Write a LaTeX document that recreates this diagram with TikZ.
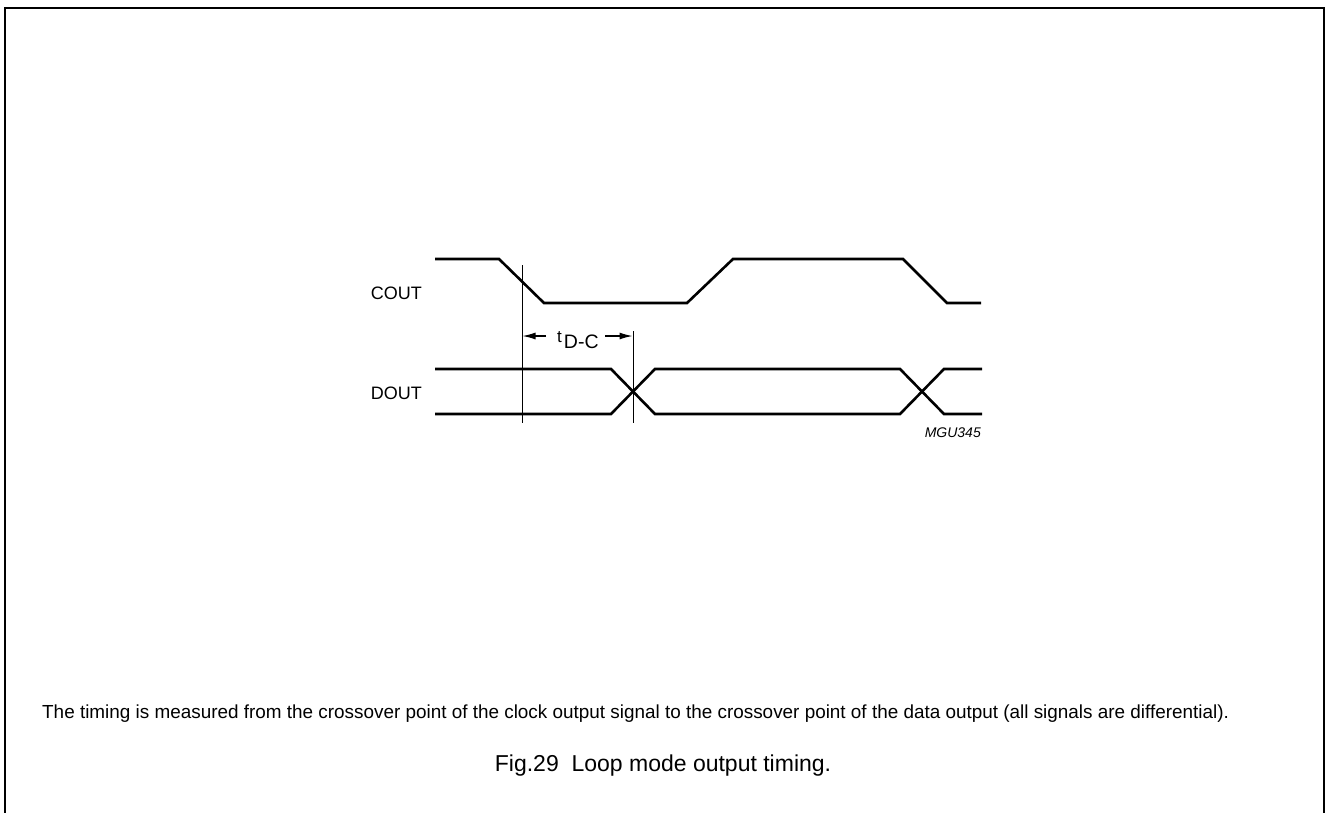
\documentclass[tikz,border=0pt]{standalone}
\usepackage{fontspec}
\setmainfont{Liberation Sans}
\usetikzlibrary{arrows.meta}
\begin{document}
\begin{tikzpicture}[x=1pt,y=-1pt,
  sig/.style={line width=2.6pt,line join=miter},
  thin/.style={line width=1pt},
  frame/.style={line width=2pt},
  dim/.style={line width=1.2pt,-{Latex[length=13pt,width=7pt]}},
  lbl/.style={inner sep=0pt,font=\fontsize{18}{20}\selectfont}]
\useasboundingbox (0,0) rectangle (1326,812);
% frame
\draw[frame] (4.5,813) -- (4.5,8) -- (1324,8) -- (1324,813);
% COUT
\draw[sig] (435,259) -- (499,259) -- (544,303) -- (687,303) -- (733,259) -- (903,259) -- (947,303) -- (981,303);
% DOUT
\draw[sig] (435,369) -- (611,369) -- (655,414) -- (900,414) -- (944,369) -- (982,369);
\draw[sig] (435,414) -- (611,414) -- (655,369) -- (900,369) -- (944,414) -- (982,414);
% reference lines
\coordinate (va1) at (522,265);
\coordinate (va2) at (522,423);
\coordinate (vb1) at (633,331);
\coordinate (vb2) at (633,423);
\draw[thin] (va1) -- (va2);
\draw[thin] (vb1) -- (vb2);
\coordinate (l1) at (522.5,336);
\coordinate (r1) at (632.5,336);
\coordinate (la) at (546,336);
\coordinate (ra) at (605,336);
\node[inner sep=0pt,anchor=base west,font=\fontsize{19.5}{22}\selectfont] (tdc) at (557,348) {\raisebox{6pt}{\fontsize{17}{18}\selectfont t}\kern2pt D-C};
\draw[dim] (la) -- (l1);
\draw[dim] (ra) -- (r1);
% labels
\node[lbl,anchor=east] (cout) at (422,293) {COUT};
\node[lbl,anchor=east] (dout) at (422,393) {DOUT};
\node[inner sep=0pt,anchor=east,font=\fontsize{14}{16}\selectfont\itshape] (mgu) at (981,433) {MGU345};
\node[inner sep=0pt,anchor=base west,font=\fontsize{18.9}{21}\selectfont] (note) at (42,718) {The timing is measured from the crossover point of the clock output signal to the crossover point of the data output (all signals are differential).};
\node[inner sep=0pt,anchor=center,font=\fontsize{23}{25}\selectfont] (cap) at (663,766) {Fig.29\ \ Loop mode output timing.};
\end{tikzpicture}
\end{document}
